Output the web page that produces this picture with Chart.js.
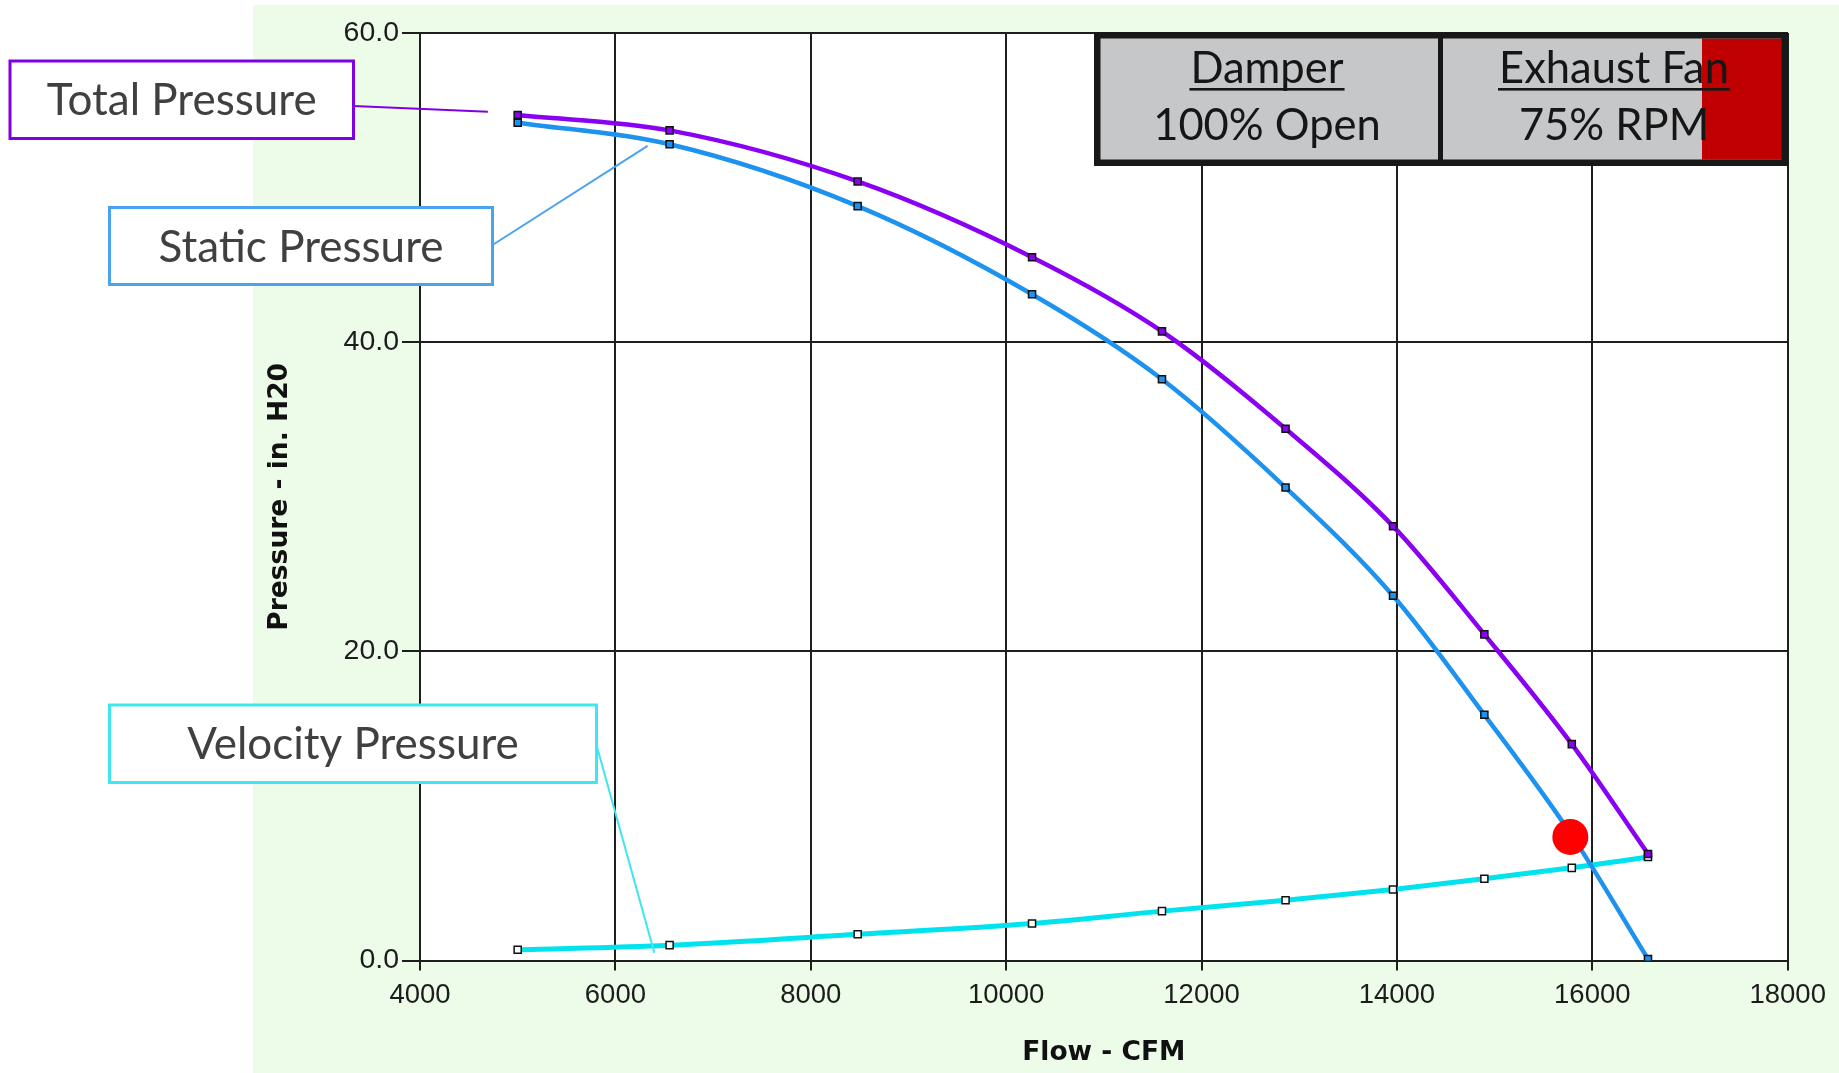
<!DOCTYPE html>
<html><head><meta charset="utf-8">
<script src="https://cdn.jsdelivr.net/npm/chart.js@4.4.1/dist/chart.umd.min.js"></script>
<style>html,body{margin:0;padding:0;background:#fff;overflow:hidden}canvas{display:block}</style>
</head><body>
<canvas id="c" width="1839" height="1073" style="width:1839px;height:1073px"></canvas>
<script>
// ---- data ----
const flowCFM          = [5000, 6555, 8480, 10265, 11595, 12860, 13960, 14895, 15790, 16570];
const totalPressure    = [54.7, 53.7, 50.4, 45.5, 40.7, 34.4, 28.1, 21.1, 14.0, 6.9];
const staticPressure   = [54.2, 52.8, 48.8, 43.1, 37.6, 30.6, 23.6, 15.9, 8.1, 0.1];
const velocityPressure = [0.7, 1.0, 1.7, 2.4, 3.2, 3.9, 4.6, 5.3, 6.0, 6.7];
const operatingPoint   = [{x: 15775, y: 8.0}];
const xTicks = [4000, 6000, 8000, 10000, 12000, 14000, 16000, 18000];
const yTicks = [0, 20, 40, 60];
const seriesNames = ['Total Pressure', 'Static Pressure', 'Velocity Pressure'];
const xTitle = 'Flow - CFM';
const yTitle = 'Pressure - in. H20';
const boxLeft = ['Damper', '100% Open'];
const boxRight = ['Exhaust Fan', '75% RPM'];

const pts = (ys) => flowCFM.map((x, i) => ({x, y: ys[i]}));

const C_TOTAL = '#8a00f2', C_STATIC = '#1e92ef', C_VEL = '#00e3ee';

const decor = {
  id: 'decor',
  beforeDraw(chart) {
    const {ctx, chartArea: a} = chart;
    ctx.save();
    ctx.fillStyle = '#ffffff';
    ctx.fillRect(0, 0, chart.width, chart.height);
    ctx.fillStyle = '#edfbe9';
    ctx.fillRect(253, 5, chart.width - 253, chart.height - 5);
    ctx.fillStyle = '#ffffff';
    ctx.fillRect(a.left, a.top, a.right - a.left, a.bottom - a.top);
    ctx.restore();
  },
  afterDraw(chart) {
    const {ctx} = chart;
    const sx = chart.scales.x, sy = chart.scales.y;
    const P = (x, y) => [sx.getPixelForValue(x), sy.getPixelForValue(y)];
    ctx.save();

    // --- Damper / Exhaust fan status box ---
    ctx.fillStyle = '#c6c7c9';
    ctx.fillRect(1094, 32, 694, 134);
    ctx.fillStyle = '#c00000';
    ctx.fillRect(1702, 38.5, 80, 121);
    ctx.strokeStyle = '#181818';
    ctx.lineWidth = 6.5;
    ctx.strokeRect(1097.25, 35.25, 687.5, 127.5);
    ctx.lineWidth = 5;
    ctx.beginPath(); ctx.moveTo(1440.5, 32); ctx.lineTo(1440.5, 166); ctx.stroke();
    ctx.fillStyle = '#161616';
    ctx.font = '43.5px Lato';
    ctx.textAlign = 'center';
    ctx.textBaseline = 'alphabetic';
    const under = (txt, cx, by) => {
      ctx.fillText(txt, cx, by);
      const w = ctx.measureText(txt).width;
      ctx.fillRect(cx - w / 2 - 1, by + 5, w + 2, 2.6);
    };
    under(boxLeft[0], 1267, 83);
    ctx.fillText(boxLeft[1], 1267, 140);
    under(boxRight[0], 1614, 83);
    ctx.fillText(boxRight[1], 1614, 140);

    // --- callouts ---
    const callout = (label, x0, y0, x1, y1, color, from, to) => {
      ctx.strokeStyle = color;
      ctx.lineWidth = 2;
      ctx.beginPath(); ctx.moveTo(from[0], from[1]); ctx.lineTo(to[0], to[1]); ctx.stroke();
      ctx.fillStyle = '#ffffff';
      ctx.fillRect(x0, y0, x1 - x0, y1 - y0);
      ctx.lineWidth = 3;
      ctx.strokeRect(x0, y0, x1 - x0, y1 - y0);
      ctx.fillStyle = '#404040';
      ctx.font = '44px Lato';
      ctx.textAlign = 'center';
      ctx.fillText(label, (x0 + x1) / 2, (y0 + y1) / 2 + 15.5);
    };
    callout(seriesNames[0], 10, 61, 353.5, 138.5, '#8000e6', [353.5, 106], P(4695, 54.9));
    callout(seriesNames[1], 109.5, 207.5, 492.5, 284.5, '#4ba3ee', [492.5, 245], P(6330, 52.7));
    callout(seriesNames[2], 109.5, 705, 596.5, 782.5, '#40e6ef', [596.5, 745], P(6399, 0.5));

    // --- axis titles ---
    const a = chart.chartArea;
    ctx.fillStyle = '#111111';
    ctx.font = 'bold 26.5px "DejaVu Sans"';
    ctx.textAlign = 'center';
    ctx.textBaseline = 'middle';
    ctx.fillText(xTitle, (a.left + a.right) / 2, 1053);
    ctx.translate(280, (a.top + a.bottom) / 2);
    ctx.rotate(-Math.PI / 2);
    ctx.fillText(yTitle, 0, 0);
    ctx.restore();
  }
};

const markerBase = {pointStyle: 'rect', pointRadius: 5, pointBorderColor: '#111', pointBorderWidth: 1.5, pointHoverRadius: 5};

new Chart(document.getElementById('c'), {
  type: 'line',
  data: {
    datasets: [
      {label: 'Operating point', data: operatingPoint, showLine: false, pointStyle: 'circle',
       pointRadius: 18, pointBackgroundColor: '#ff0000', pointBorderColor: '#ff0000', pointBorderWidth: 0},
      Object.assign({label: seriesNames[0], data: pts(totalPressure), borderColor: C_TOTAL, borderWidth: 4.5,
       pointBackgroundColor: C_TOTAL, cubicInterpolationMode: 'monotone'}, markerBase),
      Object.assign({label: seriesNames[1], data: pts(staticPressure), borderColor: C_STATIC, borderWidth: 4.5,
       pointBackgroundColor: C_STATIC, cubicInterpolationMode: 'monotone'}, markerBase),
      Object.assign({label: seriesNames[2], data: pts(velocityPressure), borderColor: C_VEL, borderWidth: 5,
       pointBackgroundColor: '#ffffff', cubicInterpolationMode: 'monotone'}, markerBase)
    ]
  },
  options: {
    responsive: false,
    animation: false,
    devicePixelRatio: 1,
    layout: {padding: {left: 0, top: 33, right: 51.3, bottom: 0}},
    plugins: {legend: {display: false}, tooltip: {enabled: false}},
    scales: {
      x: {
        type: 'linear', min: xTicks[0], max: xTicks[xTicks.length - 1],
        afterBuildTicks: (s) => { s.ticks = xTicks.map(v => ({value: v})); },
        afterFit: (s) => { s.height = 112.4; },
        grid: {color: '#1e1e1e', lineWidth: 2, tickLength: 10, drawTicks: true},
        border: {color: '#1e1e1e', width: 2},
        ticks: {callback: (v) => String(v), color: '#1c1c1c', font: {family: 'Liberation Sans', size: 27.5},
                padding: 8, maxRotation: 0, autoSkip: false}
      },
      y: {
        type: 'linear', min: yTicks[0], max: yTicks[yTicks.length - 1],
        afterBuildTicks: (s) => { s.ticks = yTicks.map(v => ({value: v})); },
        afterFit: (s) => { s.width = 420; },
        grid: {color: '#1e1e1e', lineWidth: 2, tickLength: 18, drawTicks: true},
        border: {color: '#1e1e1e', width: 2},
        ticks: {callback: (v) => Number(v).toFixed(1), color: '#1c1c1c', font: {family: 'Liberation Sans', size: 28.5},
                padding: 3}
      }
    }
  },
  plugins: [decor]
});
</script>
</body></html>
